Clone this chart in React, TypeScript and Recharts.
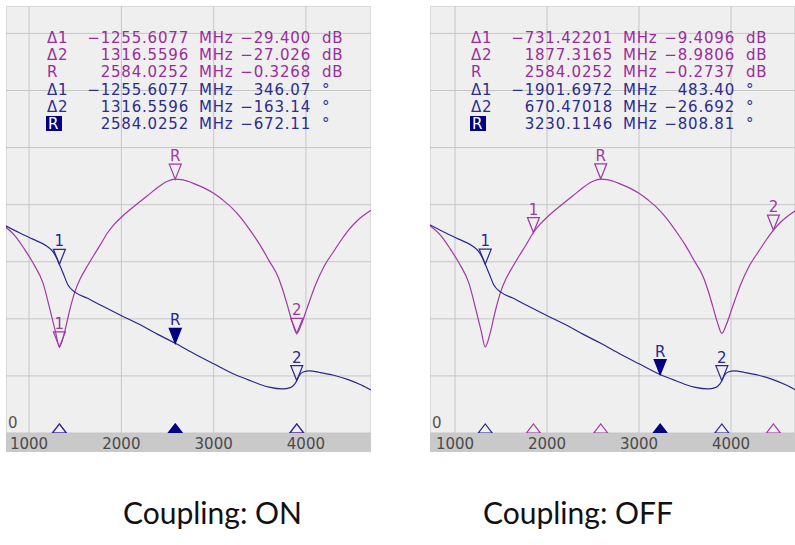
import React from "react";
import { ComposedChart, Line, Scatter, XAxis, YAxis, CartesianGrid } from "recharts";

// trace 1: |S| in dB
const magFreq = [720, 850, 950, 1050, 1150, 1230, 1285, 1328.4, 1360, 1390, 1440, 1500, 1560, 1630, 1700, 1770, 1852.6, 1920, 2000, 2100, 2200, 2300, 2400, 2500, 2584, 2650, 2700, 2800, 2900, 3000, 3100, 3200, 3300, 3400, 3500, 3600, 3700, 3750, 3800, 3850, 3900.6, 3950, 4000, 4050, 4100, 4200, 4300, 4400, 4461.3, 4550, 4705];
const magDb = [-8.4, -10.3, -12.6, -15.2, -18.5, -23.4, -27.0, -29.73, -28.6, -26.8, -23.3, -19.9, -17.6, -15.6, -13.7, -11.9, -9.68, -8.3, -7.0, -5.6, -4.3, -3.0, -1.7, -0.7, -0.33, -0.4, -0.6, -1.2, -1.9, -2.8, -4.0, -5.4, -7.2, -9.4, -11.8, -14.6, -17.5, -19.8, -22.5, -25.3, -27.35, -25.8, -23.5, -21.2, -19.0, -15.5, -13.0, -10.6, -9.25, -7.7, -5.8];

// trace 2: phase in degrees (unwrapped)
const phaseFreq = [720, 900, 1040, 1190, 1260, 1300, 1328.4, 1368, 1422, 1498, 1628, 1800, 1986, 2200, 2400, 2584, 2800, 3000, 3230, 3400, 3600, 3750, 3830, 3880, 3900.6, 3930, 3970, 4040, 4150, 4300, 4450, 4600, 4705];
const phaseDeg = [-152, -189, -216, -246, -272, -300, -326, -364, -417, -448, -474, -510, -548, -590, -634, -672, -720, -762, -809, -836, -864, -872, -866, -850, -835, -812, -798, -793, -800, -812, -830, -855, -877];

const xTicks = [1000, 2000, 3000, 4000];
const onSpan = [750, 4705];
const offSpan = [728, 4696];
const magRange = [-44.8, 30.0];
const phaseRange = [-1064.9, 805.1];
const divRange = [0, 7.48];
const divTicks = [1, 2, 3, 4, 5, 6, 7];

// marker readouts: [label, freq MHz, value]
const onMagMarks = [["1", 1328.4175, -29.7268], ["R", 2584.0252, -0.3268], ["2", 3900.5848, -27.3528]];
const onPhaseMarks = [["1", 1328.4175, -326.04], ["R", 2584.0252, -672.11], ["2", 3900.5848, -835.25]];
const offMagMarks = [["1", 1852.6032, -9.6833], ["R", 2584.0252, -0.2737], ["2", 4461.3417, -9.2543]];
const offPhaseMarks = [["1", 1328.4174, -325.41], ["R", 3230.1146, -808.81], ["2", 3900.5848, -835.5]];

const onRows = [
  ["Δ1", "−1255.6077", "−29.400", "dB"],
  ["Δ2", "1316.5596", "−27.026", "dB"],
  ["R", "2584.0252", "−0.3268", "dB"],
  ["Δ1", "−1255.6077", "346.07", "°"],
  ["Δ2", "1316.5596", "−163.14", "°"],
  ["R", "2584.0252", "−672.11", "°"],
];
const offRows = [
  ["Δ1", "−731.42201", "−9.4096", "dB"],
  ["Δ2", "1877.3165", "−8.9806", "dB"],
  ["R", "2584.0252", "−0.2737", "dB"],
  ["Δ1", "−1901.6972", "483.40", "°"],
  ["Δ2", "670.47018", "−26.692", "°"],
  ["R", "3230.1146", "−808.81", "°"],
];

const MAG = "#a03aa3";
const PH = "#28288f";
const MAG_TXT = "#9a2c9c";
const PH_TXT = "#2a2c92";
const FONT = "'DejaVu Sans', Verdana, sans-serif";

const magData = magFreq.map((f, i) => ({ f, v: magDb[i] }));
const phaseData = phaseFreq.map((f, i) => ({ f, v: phaseDeg[i] }));
const toPts = (m: any[]) => m.map(([label, f, v]) => ({ label, f, v }));

const DownMark = (color: string) => (props: any) => {
  const { cx, cy, payload } = props;
  const filled = payload.label === "R" && color === PH;
  return (
    <g>
      <path
        d={`M${cx - 6},${cy - 15} L${cx + 6},${cy - 15} L${cx},${cy} Z`}
        fill={filled ? "#000080" : "none"}
        stroke={filled ? "#000080" : color}
        strokeWidth={1.2}
      />
      <text x={cx} y={cy - 18} textAnchor="middle" fill={color} fontSize={15} fontFamily={FONT}>
        {payload.label}
      </text>
    </g>
  );
};

const UpMark = (color: string) => (props: any) => {
  const { cx, cy, payload } = props;
  const filled = payload.label === "R" && color === PH;
  return (
    <path
      d={`M${cx - 7},${cy} L${cx + 7},${cy} L${cx},${cy - 9} Z`}
      fill={filled ? "#000080" : "none"}
      stroke={filled ? "#000080" : color}
      strokeWidth={1.2}
    />
  );
};

const Tick = (props: any) => (
  <text x={props.x} y={props.y} dy={16} textAnchor="middle" fill="#4a4a4a" fontSize={15} fontFamily={FONT}>
    {props.payload.value}
  </text>
);

const Panel = ({ left, span, magMarks, phaseMarks }: any) => {
  const magPts = toPts(magMarks);
  const phPts = toPts(phaseMarks);
  const magBottom = magPts.map((p: any) => ({ ...p, v: magRange[0] }));
  const phBottom = phPts.map((p: any) => ({ ...p, v: magRange[0] }));
  return (
    <div style={{ position: "absolute", left, top: 6, width: 365, height: 446, background: "#c9c9c9" }}>
      <ComposedChart width={365} height={446} margin={{ top: 0, right: 0, bottom: 0, left: 0 }}>
        <CartesianGrid yAxisId="grid" fill="#efefef" stroke="#c6c6c6" />
        <XAxis
          dataKey="f"
          type="number"
          domain={span}
          ticks={xTicks}
          allowDataOverflow
          height={19}
          axisLine={false}
          tickLine={false}
          tickSize={0}
          tickMargin={0}
          tick={<Tick />}
        />
        <YAxis yAxisId="grid" hide type="number" domain={divRange} ticks={divTicks} allowDataOverflow />
        <YAxis yAxisId="mag" hide type="number" domain={magRange} allowDataOverflow />
        <YAxis yAxisId="ph" hide type="number" domain={phaseRange} allowDataOverflow />
        <Line yAxisId="mag" data={magData} dataKey="v" type="monotone" stroke={MAG} strokeWidth={1.2} dot={false} isAnimationActive={false} />
        <Line yAxisId="ph" data={phaseData} dataKey="v" type="monotone" stroke={PH} strokeWidth={1.2} dot={false} isAnimationActive={false} />
        <Scatter yAxisId="mag" data={magPts} dataKey="v" shape={DownMark(MAG)} isAnimationActive={false} />
        <Scatter yAxisId="ph" data={phPts} dataKey="v" shape={DownMark(PH)} isAnimationActive={false} />
        <Scatter yAxisId="mag" data={magBottom} dataKey="v" shape={UpMark(MAG)} isAnimationActive={false} />
        <Scatter yAxisId="mag" data={phBottom} dataKey="v" shape={UpMark(PH)} isAnimationActive={false} />
      </ComposedChart>
    </div>
  );
};

const Readout = ({ x0, rows }: any) => (
  <g fontFamily={FONT} fontSize={15} letterSpacing={0.8}>
    {rows.map((r: string[], i: number) => {
      const y = 43 + i * 17.2;
      const color = i < 3 ? MAG_TXT : PH_TXT;
      const boxed = i === 5;
      return (
        <g key={i} fill={color}>
          {boxed && <rect x={x0 + 40} y={y - 13} width={16} height={15} fill="#000080" />}
          <text x={x0 + (boxed ? 42 : 41)} y={y} fill={boxed ? "#ffffff" : color}>{r[0]}</text>
          <text x={x0 + 183} y={y} textAnchor="end">{r[1]}</text>
          <text x={x0 + 193} y={y}>MHz</text>
          <text x={x0 + 305} y={y} textAnchor="end">{r[2]}</text>
          <text x={x0 + 316} y={y}>{r[3]}</text>
        </g>
      );
    })}
    <text x={x0 + 2} y={428} fill="#5a5048" letterSpacing={0}>0</text>
  </g>
);

export default function App() {
  return (
    <div style={{ position: "absolute", left: 0, top: 0, width: 795, height: 545, background: "#fff", overflow: "hidden" }}>
      <Panel left={6} span={onSpan} magMarks={onMagMarks} phaseMarks={onPhaseMarks} />
      <Panel left={430} span={offSpan} magMarks={offMagMarks} phaseMarks={offPhaseMarks} />
      <svg width={795} height={545} style={{ position: "absolute", left: 0, top: 0, pointerEvents: "none" }}>
        <Readout x0={6} rows={onRows} />
        <Readout x0={430} rows={offRows} />
        <g fontFamily="Lato, 'Open Sans', sans-serif" fontSize={30} fill="#111">
          <text x={123} y={524}>Coupling: ON</text>
          <text x={483} y={524}>Coupling: OFF</text>
        </g>
      </svg>
    </div>
  );
}
